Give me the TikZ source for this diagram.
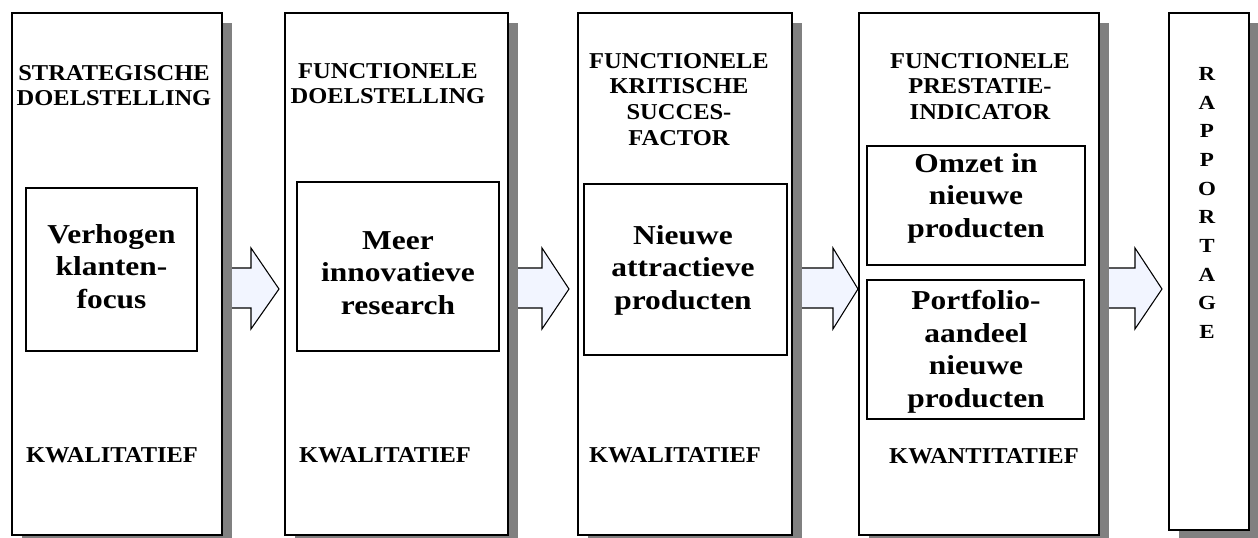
\documentclass[tikz,border=0pt]{standalone}
\usepackage{fontspec}
\setmainfont[FakeStretch=1.15]{Liberation Serif}
\newfontfamily\headfont[FakeStretch=1.08]{Liberation Serif}
\usetikzlibrary{fit}
\definecolor{shadowgray}{HTML}{808080}
\definecolor{arrowfill}{HTML}{F2F5FF}

% panel with a drop shadow: name, x1, y1, x2, y2 (pixel-like units, y downwards)
\newcommand\shadowpanel[5]{%
  \fill[shadowgray] (#2+10,#3+10) rectangle (#4+10,#5+10);
  \node[panel, fit={(#2,#3) (#4,#5)}] (#1) {};
}
% block arrow: start x, head base x, tip x
\newcommand\blockarrow[3]{%
  \filldraw[blockarrow] (#1,268) -- (#2,268) -- (#2,248) -- (#3,289)
    -- (#2,329) -- (#2,308) -- (#1,308);
}

\begin{document}
\begin{tikzpicture}[x=0.75pt, y=-0.75pt,
  panel/.style={draw=black, line width=1.4pt, fill=white, inner sep=0pt},
  inner/.style={draw=black, line width=1.1pt, fill=white, inner sep=0pt},
  blockarrow/.style={draw=black, line width=0.8pt, fill=arrowfill, line join=miter},
  title/.style={anchor=north, inner sep=0pt, align=center,
    font=\headfont\bfseries\fontsize{17}{19.2}\selectfont},
  body/.style={anchor=north, inner sep=0pt, align=center,
    font=\bfseries\fontsize{20.5}{24.5}\selectfont},
  kind/.style={anchor=north, inner sep=0pt,
    font=\headfont\bfseries\fontsize{17}{19}\selectfont},
  vert/.style={anchor=north, inner sep=0pt, align=center,
    font=\bfseries\fontsize{15}{21.5}\selectfont}]
\useasboundingbox (0,0) rectangle (1258,538);

% arrows between the panels (their tails disappear behind the shadows)
\blockarrow{222}{251}{279}
\blockarrow{508}{542}{569}
\blockarrow{792}{833}{858}
\blockarrow{1099}{1135}{1162}

% the five columns
\shadowpanel{p1}{12}{13}{222}{535}
\shadowpanel{p2}{285}{13}{508}{535}
\shadowpanel{p3}{578}{13}{792}{535}
\shadowpanel{p4}{859}{13}{1099}{535}
\shadowpanel{p5}{1169}{13}{1249}{530}

% column headings
\node[title] (t1) at (114,65) {STRATEGISCHE\\DOELSTELLING};
\node[title] (t2) at (388,63) {FUNCTIONELE\\DOELSTELLING};
\node[title] (t3) at (679,53) {FUNCTIONELE\\KRITISCHE\\SUCCES-\\FACTOR};
\node[title] (t4) at (980,53) {FUNCTIONELE\\PRESTATIE-\\INDICATOR};

% inner boxes
\node[inner, fit={(26,188) (197,351)}] (i1) {};
\node[inner, fit={(297,182) (499,351)}] (i2) {};
\node[inner, fit={(584,184) (787,355)}] (i3) {};
\node[inner, fit={(867,146) (1085,265)}] (i4a) {};
\node[inner, fit={(867,280) (1084,419)}] (i4b) {};

\node[body] (b1) at (111.5,224) {Verhogen\\klanten-\\focus};
\node[body] (b2) at (398,231) {Meer\\innovatieve\\research};
\node[body] (b3) at (683,225) {Nieuwe\\attractieve\\producten};
\node[body] (b4a) at (976,153) {Omzet in\\nieuwe\\producten};
\node[body] (b4b) at (976,290) {Portfolio-\\aandeel\\nieuwe\\producten};

% qualitative / quantitative labels
\node[kind] (k1) at (112,447) {KWALITATIEF};
\node[kind] (k2) at (385,447) {KWALITATIEF};
\node[kind] (k3) at (675,447) {KWALITATIEF};
\node[kind] (k4) at (984,448) {KWANTITATIEF};

% reporting column
\node[vert] (r) at (1207,67) {R\\A\\P\\P\\O\\R\\T\\A\\G\\E};
\end{tikzpicture}
\end{document}
